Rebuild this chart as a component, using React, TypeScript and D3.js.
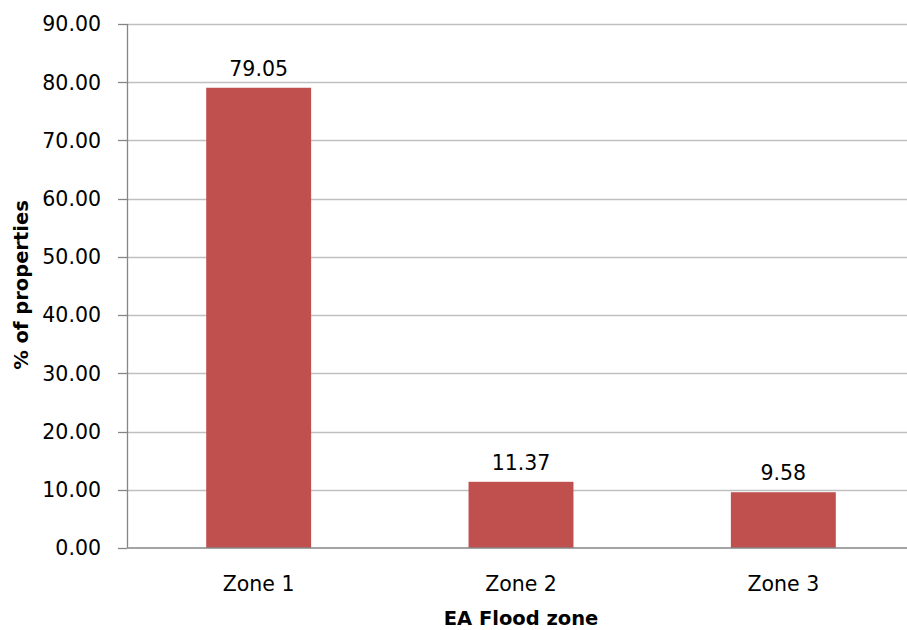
import React from "react";
import * as d3 from "d3";

const categories = ["Zone 1", "Zone 2", "Zone 3"];
const values = [79.05, 11.37, 9.58];
const yTicks = [0, 10, 20, 30, 40, 50, 60, 70, 80, 90];
const yTitle = "% of properties";
const xTitle = "EA Flood zone";

const W = 907;
const H = 630;
const FONT = "'DejaVu Sans', 'Open Sans', sans-serif";

export default function App() {
  const left = 127.5;
  const right = 914.5;
  const top = 24;
  const bottom = 548;

  const x = d3.scaleBand<string>().domain(categories).range([left, right]).paddingInner(0.6).paddingOuter(0.3);
  const y = d3.scaleLinear().domain([0, 90]).range([bottom, top]);

  return (
    <svg width={W} height={H} style={{ position: "absolute", left: 0, top: 0, background: "#fff" }} fontFamily={FONT}>
      {yTicks.map((t) => (
        <g key={t}>
          {t > 0 && (
            <line x1={left} x2={right} y1={Math.round(y(t)) + 0.5} y2={Math.round(y(t)) + 0.5} stroke="#c0c0c0" strokeWidth={1.3} />
          )}
          <line x1={118} x2={left} y1={Math.round(y(t)) + 0.5} y2={Math.round(y(t)) + 0.5} stroke="#868686" strokeWidth={1.3} />
          <text x={101} y={y(t)} dy="0.36em" textAnchor="end" fontSize={20.5} fill="#000">
            {t.toFixed(2)}
          </text>
        </g>
      ))}
      {categories.map((c, i) => (
        <g key={c}>
          <rect x={x(c)} y={y(values[i])} width={x.bandwidth()} height={bottom - y(values[i])} fill="#C0504D" />
          <text x={(x(c) as number) + x.bandwidth() / 2} y={y(values[i]) - 12} textAnchor="middle" fontSize={20.5} fill="#000">
            {values[i].toFixed(2)}
          </text>
          <text x={(x(c) as number) + x.bandwidth() / 2} y={591} textAnchor="middle" fontSize={20.5} fill="#000">
            {c}
          </text>
        </g>
      ))}
      <line x1={left} x2={left} y1={top} y2={bottom} stroke="#868686" strokeWidth={1.3} />
      <line x1={left} x2={right} y1={bottom} y2={bottom} stroke="#868686" strokeWidth={1.3} />
      <text x={521} y={625} textAnchor="middle" fontSize={19.5} fontWeight="bold" fill="#000">
        {xTitle}
      </text>
      <text transform={`translate(28,285) rotate(-90)`} textAnchor="middle" fontSize={19.5} fontWeight="bold" fill="#000">
        {yTitle}
      </text>
    </svg>
  );
}
